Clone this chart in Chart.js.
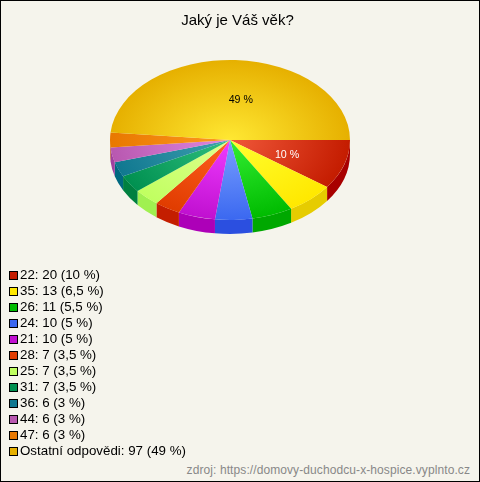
<!DOCTYPE html>
<html lang="cs">
<head>
  <meta charset="UTF-8" />
  <title>Jaký je Váš věk?</title>
  <style>
    html, body { margin: 0; padding: 0; width: 480px; height: 482px; overflow: hidden; }
    body { background: #f5f4ec; font-family: 'Liberation Sans', Arial, sans-serif; color: #000; position: relative; }
    .frame { position: absolute; left: 0; top: 0; width: 478px; height: 480px; border: 1px solid #000; }
    #chart { position: absolute; left: 0; top: 0; }
    #legend { position: absolute; left: 9px; top: 267px; font-size: 13.33px; line-height: 16px; }
    .row { height: 16px; white-space: nowrap; display: flex; align-items: center; }
    .box { width: 7px; height: 7px; border: 1px solid #000; margin-right: 2px; flex: none; }
    .source { position: absolute; right: 10px; top: 463px; font-size: 12px; line-height: 14px; color: #888; letter-spacing: 0.09px; }
  </style>
</head>
<body>
<canvas id="chart" width="475" height="300"></canvas>
<div id="legend"></div>
<div class="source">zdroj: https://domovy-duchodcu-x-hospice.vyplnto.cz</div>
<div class="frame"></div>

<script src="https://cdn.jsdelivr.net/npm/chart.js"></script>
<script>
const categories = ['22', '35', '26', '24', '21', '28', '25', '31', '36', '44', '47', 'Ostatní odpovědi'];
const counts = [20, 13, 11, 10, 10, 7, 7, 7, 6, 6, 6, 97];
const percents = ['10 %', '6,5 %', '5,5 %', '5 %', '5 %', '3,5 %', '3,5 %', '3,5 %', '3 %', '3 %', '3 %', '49 %'];

const swatchColors = ['#c41c00', '#ffe800', '#00bb00', '#3b68f0', '#c010d0', '#e03c00', '#c0ff60', '#009050', '#107890', '#b858b0', '#e87800', '#e6b000'];
const centerColors = ['#f0583a', '#ffff30', '#33ee33', '#7aa0ff', '#f03cff', '#ff6020', '#e0ff90', '#30c080', '#40a0b0', '#e088e0', '#ff9920', '#ffe833'];
const sideColors = ['#a80000', '#e6cc00', '#00a800', '#2b4fe0', '#ad00b8', '#c41e00', '#a0f050', '#008040', '#006880', '#a040a0', '#c06000', '#b08000'];

const squash = 2 / 3;
const pieCenterX = 230;
const pieCenterY = 140;
const depth = 21; // in unsquashed units

// squashes the round pie into a tilted one and puts the wall under it
const tiltPlugin = {
  id: 'tilt',
  beforeDatasetsDraw(chart) {
    const ctx = chart.ctx;
    const arcs = chart.getDatasetMeta(0).data;
    const cx = arcs[0].x;
    const cy = arcs[0].y;
    ctx.save();
    ctx.translate(pieCenterX, pieCenterY);
    ctx.scale(1, squash);
    ctx.translate(-cx, -cy);
    arcs.forEach((arc, i) => {
      const start = Math.max(arc.startAngle, 0);
      const end = Math.min(arc.endAngle, Math.PI);
      if (end <= start) return;
      ctx.beginPath();
      ctx.arc(cx, cy + depth, arc.outerRadius, start, end);
      ctx.arc(cx, cy, arc.outerRadius, end, start, true);
      ctx.closePath();
      ctx.fillStyle = sideColors[i];
      ctx.fill();
    });
  },
  afterDatasetsDraw(chart) {
    const ctx = chart.ctx;
    ctx.restore();
    const arcs = chart.getDatasetMeta(0).data;
    ctx.font = '10.67px "Liberation Sans", Arial, sans-serif';
    ctx.textAlign = 'center';
    ctx.textBaseline = 'middle';
    arcs.forEach((arc, i) => {
      if (counts[i] < 20) return;
      const mid = (arc.startAngle + arc.endAngle) / 2;
      const r = arc.outerRadius / 2;
      const big = i === arcs.length - 1;
      ctx.fillStyle = big ? '#000' : '#fff';
      ctx.fillText(percents[i],
        pieCenterX + Math.cos(mid) * r + (big ? 8 : 0),
        pieCenterY + Math.sin(mid) * r * squash + (big ? 0 : 3));
    });
  }
};

function sliceFill(c) {
  const area = c.chart.chartArea;
  if (!area || c.dataIndex === undefined) return swatchColors[c.dataIndex || 0];
  const x = (area.left + area.right) / 2;
  const y = (area.top + area.bottom) / 2;
  const g = c.chart.ctx.createRadialGradient(x, y, 0, x, y, 120);
  g.addColorStop(0, centerColors[c.dataIndex]);
  g.addColorStop(1, swatchColors[c.dataIndex]);
  return g;
}

new Chart(document.getElementById('chart'), {
  type: 'pie',
  data: {
    labels: categories,
    datasets: [{
      data: counts,
      backgroundColor: sliceFill,
      borderWidth: 0
    }]
  },
  options: {
    responsive: false,
    animation: false,
    rotation: 90,
    events: [],
    layout: { padding: { bottom: 16 } },
    plugins: {
      legend: { display: false },
      tooltip: { enabled: false },
      title: {
        display: true,
        text: 'Jaký je Váš věk?',
        color: '#000',
        font: { family: '"Liberation Sans", Arial, sans-serif', size: 15, weight: 'normal', lineHeight: 1.0667 },
        padding: { top: 13, bottom: 15 }
      }
    }
  },
  plugins: [tiltPlugin]
});

const legend = document.getElementById('legend');
categories.forEach((name, i) => {
  const row = document.createElement('div');
  row.className = 'row';
  const box = document.createElement('span');
  box.className = 'box';
  box.style.background = swatchColors[i];
  row.appendChild(box);
  row.appendChild(document.createTextNode(name + ': ' + counts[i] + ' (' + percents[i] + ')'));
  legend.appendChild(row);
});
</script>
</body>
</html>
